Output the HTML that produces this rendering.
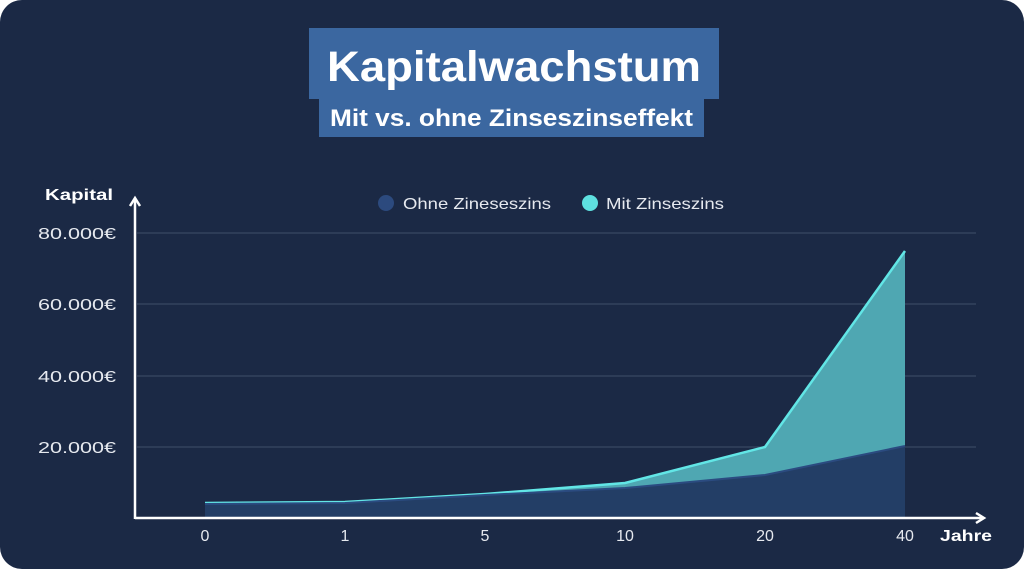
<!DOCTYPE html>
<html><head><meta charset="utf-8"><style>
html,body{margin:0;padding:0;background:#fff;width:1024px;height:569px;overflow:hidden}
svg{display:block}
text{font-family:"Liberation Sans",sans-serif}
</style></head><body>
<svg width="1024" height="569" viewBox="0 0 1024 569">
<rect x="0" y="0" width="1024" height="569" rx="22" fill="#1b2945"/>
<rect x="309" y="28" width="410" height="71" fill="#3b67a0"/>
<rect x="319" y="97" width="385" height="40" fill="#3b67a0"/>
<text x="327" y="81" fill="#fff" font-size="43" font-weight="bold" textLength="374" lengthAdjust="spacingAndGlyphs">Kapitalwachstum</text>
<text x="330" y="126" fill="#fff" font-size="24" font-weight="bold" textLength="363" lengthAdjust="spacingAndGlyphs">Mit vs. ohne Zinseszinseffekt</text>
<circle cx="386" cy="203" r="8" fill="#2c4a7e"/>
<text x="403" y="209" fill="#e6e9ef" font-size="16" textLength="148" lengthAdjust="spacingAndGlyphs">Ohne Zineseszins</text>
<circle cx="590" cy="203" r="8" fill="#5ee0e0"/>
<text x="606" y="209" fill="#e6e9ef" font-size="16" textLength="118" lengthAdjust="spacingAndGlyphs">Mit Zinseszins</text>
<g stroke="#3f4e69" stroke-width="1">
<line x1="137" y1="233" x2="976" y2="233"/>
<line x1="137" y1="304" x2="976" y2="304"/>
<line x1="137" y1="376" x2="976" y2="376"/>
<line x1="137" y1="447" x2="976" y2="447"/>
</g>
<g fill="#e6e9ef" font-size="16">
<text x="38" y="239" textLength="78" lengthAdjust="spacingAndGlyphs">80.000€</text>
<text x="38" y="310" textLength="78" lengthAdjust="spacingAndGlyphs">60.000€</text>
<text x="38" y="382" textLength="78" lengthAdjust="spacingAndGlyphs">40.000€</text>
<text x="38" y="453" textLength="78" lengthAdjust="spacingAndGlyphs">20.000€</text>
</g>
<text x="45" y="200" fill="#fff" font-size="15.5" font-weight="bold" textLength="68" lengthAdjust="spacingAndGlyphs">Kapital</text>
<polygon points="205,503 345,502 485,494 625,483 765,447 905,251 905,518 205,518" fill="#4fa7b2"/>
<polyline points="205,503 345,502 485,494 625,483 765,447 905,251" fill="none" stroke="#62e6e6" stroke-width="2.5"/>
<polygon points="205,504 345,503 485,495 625,488 765,475 905,446 905,518 205,518" fill="#233e66"/>
<polyline points="205,504 345,503 485,495 625,488 765,475 905,446" fill="none" stroke="#2b4b80" stroke-width="2"/>
<g stroke="#fff" stroke-width="2.5" fill="none">
<line x1="135" y1="519" x2="135" y2="198"/>
<polyline points="130,206 135,198 140,206"/>
<line x1="135" y1="518" x2="983" y2="518"/>
<polyline points="976,513 984,518 976,523"/>
</g>
<g fill="#e6e9ef" font-size="16" text-anchor="middle">
<text x="205" y="541">0</text>
<text x="345" y="541">1</text>
<text x="485" y="541">5</text>
<text x="625" y="541">10</text>
<text x="765" y="541">20</text>
<text x="905" y="541">40</text>
</g>
<text x="940" y="541" fill="#fff" font-size="15.5" font-weight="bold" textLength="52" lengthAdjust="spacingAndGlyphs">Jahre</text>
</svg>
</body></html>
